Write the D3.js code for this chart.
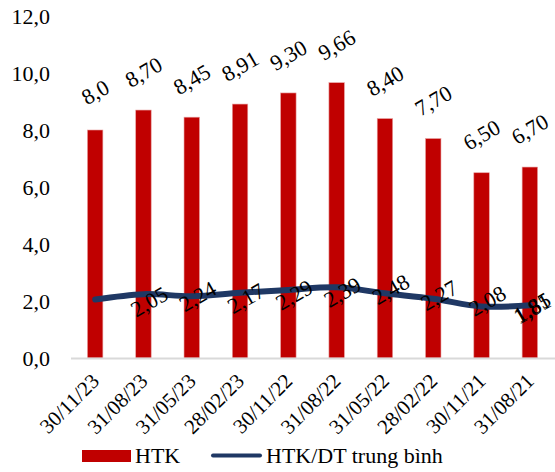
<!DOCTYPE html>
<html>
<head>
<meta charset="utf-8">
<script src="https://cdn.jsdelivr.net/npm/d3@7"></script>
<style>
  html, body { margin: 0; padding: 0; background: #fff; }
  svg { display: block; font-family: "Liberation Serif", "Times New Roman", serif; }
</style>
</head>
<body>
<svg id="chart" width="555" height="472"></svg>
<script>
const categories = ["30/11/23","31/08/23","31/05/23","28/02/23","30/11/22","31/08/22","31/05/22","28/02/22","30/11/21","31/08/21"];
const htk = [8.0, 8.70, 8.45, 8.91, 9.30, 9.66, 8.40, 7.70, 6.50, 6.70];
const htkLabels = ["8,0","8,70","8,45","8,91","9,30","9,66","8,40","7,70","6,50","6,70"];
const ratio = [2.05, 2.24, 2.17, 2.29, 2.39, 2.48, 2.27, 2.08, 1.81, 1.85];
const yTicks = [0, 2, 4, 6, 8, 10, 12];
const seriesNames = ["HTK", "HTK/DT trung bình"];

const svg = d3.select("#chart");
const fs = 22;

const x = d3.scaleBand().domain(categories).range([71, 554]).paddingInner(0.68).paddingOuter(0.34);
const y = d3.scaleLinear().domain([0, 12]).range([358, 16]);
const cx = d => x(d) + x.bandwidth() / 2;

// y tick labels
svg.append("g").selectAll("text").data(yTicks).join("text")
  .attr("x", 50).attr("y", d => y(d)).attr("dy", "0.35em")
  .attr("text-anchor", "end").attr("font-size", fs).attr("fill", "#000")
  .text(d => d3.format(".1f")(d).replace(".", ","));

// bars
svg.append("g").selectAll("rect").data(htk).join("rect")
  .attr("x", (d, i) => x(categories[i])).attr("width", x.bandwidth())
  .attr("y", d => y(d)).attr("height", d => y(0) - y(d))
  .attr("fill", "#c00000").attr("stroke", "#e8a0a0").attr("stroke-width", 0.6);

// axis line
svg.append("line").attr("x1", 71).attr("x2", 555).attr("y1", y(0) + 0.5).attr("y2", y(0) + 0.5)
  .attr("stroke", "#d9d9d9").attr("stroke-width", 2);

// line
const line = d3.line().x((d, i) => cx(categories[i])).y(d => y(d)).curve(d3.curveCatmullRom.alpha(0.5));
svg.append("path").datum(ratio).attr("d", line)
  .attr("fill", "none").attr("stroke", "#1f3864").attr("stroke-width", 6)
  .attr("stroke-linecap", "round").attr("stroke-linejoin", "round");

// bar labels
svg.append("g").selectAll("text").data(htk).join("text")
  .attr("transform", (d, i) => `translate(${cx(categories[i])},${y(d) - 38}) rotate(-30)`)
  .attr("text-anchor", "middle").attr("dy", "0.35em").attr("font-size", fs).attr("fill", "#000")
  .text((d, i) => htkLabels[i]);

// line labels
svg.append("g").selectAll("text").data(ratio).join("text")
  .attr("transform", (d, i) => `translate(${Math.min(cx(categories[i]) + 54, 532)},${y(d) + 2}) rotate(-30)`)
  .attr("text-anchor", "middle").attr("dy", "0.35em").attr("font-size", fs).attr("fill", "#000")
  .text(d => d3.format(".2f")(d).replace(".", ","));

// x labels
svg.append("g").selectAll("text").data(categories).join("text")
  .attr("transform", d => `translate(${cx(d) - 5},${372}) rotate(-45)`)
  .attr("text-anchor", "end").attr("dy", "0.7em").attr("font-size", 21).attr("fill", "#000")
  .text(d => d);

// legend
const lg = svg.append("g");
lg.append("rect").attr("x", 82).attr("y", 450).attr("width", 49).attr("height", 12).attr("fill", "#c00000");
lg.append("text").attr("x", 135).attr("y", 463).attr("font-size", fs).text(seriesNames[0]);
lg.append("line").attr("x1", 213).attr("x2", 260).attr("y1", 455.5).attr("y2", 455.5)
  .attr("stroke", "#1f3864").attr("stroke-width", 4).attr("stroke-linecap", "round");
lg.append("text").attr("x", 266).attr("y", 463).attr("font-size", fs).text(seriesNames[1]);
</script>
</body>
</html>
